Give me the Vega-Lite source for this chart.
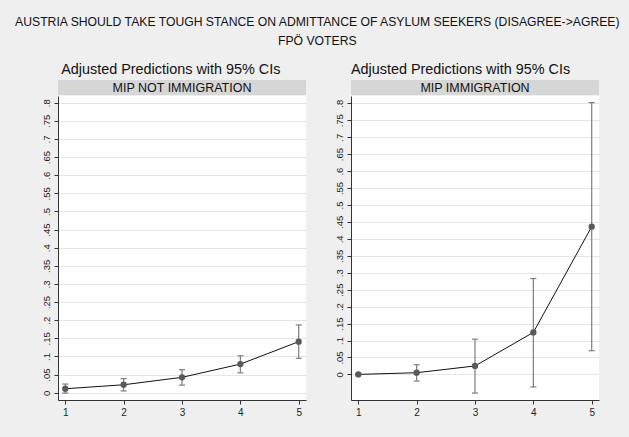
{
  "$schema": "https://vega.github.io/schema/vega-lite/v6.json",
  "background": "#efefef",
  "padding": {"left": 13, "top": 15, "right": 13, "bottom": 21},
  "datasets": {
    "left": [
      {"x": 1, "y": 0.011, "lo": -0.001, "hi": 0.024},
      {"x": 2, "y": 0.022, "lo": 0.005, "hi": 0.039},
      {"x": 3, "y": 0.0425, "lo": 0.021, "hi": 0.0635},
      {"x": 4, "y": 0.079, "lo": 0.055, "hi": 0.102},
      {"x": 5, "y": 0.141, "lo": 0.095, "hi": 0.187}
    ],
    "right": [
      {"x": 1, "y": 0.0, "lo": 0.0, "hi": 0.0},
      {"x": 2, "y": 0.005, "lo": -0.0195, "hi": 0.0285},
      {"x": 3, "y": 0.025, "lo": -0.055, "hi": 0.104},
      {"x": 4, "y": 0.124, "lo": -0.037, "hi": 0.283},
      {"x": 5, "y": 0.436, "lo": 0.07, "hi": 0.802}
    ],
    "stripL": [{"label": "MIP NOT IMMIGRATION"}],
    "stripR": [{"label": "MIP IMMIGRATION"}]
  },
  "title": {
    "text": ["AUSTRIA SHOULD TAKE TOUGH STANCE ON ADMITTANCE OF ASYLUM SEEKERS (DISAGREE->AGREE)", "FPÖ VOTERS"],
    "fontSize": 12.2,
    "lineHeight": 19.5,
    "anchor": "middle",
    "frame": "bounds",
    "dx": -2.7,
    "offset": 14
  },
  "spacing": 27,
  "hconcat": [
    {
      "title": {"text": "Adjusted Predictions with 95% CIs", "fontSize": 14.4, "anchor": "middle", "frame": "bounds", "dx": -2.7, "offset": 3},
      "spacing": 1,
      "bounds": "flush",
      "vconcat": [
        {
          "width": 248, "height": 15,
          "data": {"name": "stripL"},
          "view": {"fill": "#d6d6d6", "stroke": null},
          "mark": {"type": "text", "fontSize": 12.5, "baseline": "middle", "align": "center", "color": "#111"},
          "encoding": {"text": {"field": "label", "type": "nominal"}}
        },
        {
          "width": 248, "height": 304,
          "data": {"name": "left"},
          "view": {"fill": "white", "stroke": null},
          "encoding": {
            "x": {"field": "x", "type": "quantitative", "scale": {"domain": [0.875, 5.125], "nice": false, "zero": false},
                  "axis": {"values": [1, 2, 3, 4, 5], "format": "d", "title": null, "grid": false}}
          },
          "layer": [
            {
              "mark": {"type": "rule", "color": "#7d7d7d", "strokeWidth": 1.2},
              "encoding": {
                "y": {"field": "lo", "type": "quantitative", "scale": {"domain": [-0.02, 0.8185], "nice": false, "zero": false},
                      "axis": {"values": [0, 0.05, 0.1, 0.15, 0.2, 0.25, 0.3, 0.35, 0.4, 0.45, 0.5, 0.55, 0.6, 0.65, 0.7, 0.75, 0.8], "title": null,
                               "labelExpr": "datum.value == 0 ? '0' : substring(format(datum.value, '.2~f'), 1)"}},
                "y2": {"field": "hi"}
              }
            },
            {
              "mark": {"type": "tick", "orient": "horizontal", "size": 6, "thickness": 1.2, "color": "#7d7d7d", "opacity": 1},
              "encoding": {
                "y": {"field": "lo", "type": "quantitative", "scale": {"domain": [-0.02, 0.8185], "nice": false, "zero": false},
                      "axis": {"values": [0, 0.05, 0.1, 0.15, 0.2, 0.25, 0.3, 0.35, 0.4, 0.45, 0.5, 0.55, 0.6, 0.65, 0.7, 0.75, 0.8], "title": null,
                               "labelExpr": "datum.value == 0 ? '0' : substring(format(datum.value, '.2~f'), 1)"}}
              }
            },
            {
              "mark": {"type": "tick", "orient": "horizontal", "size": 6, "thickness": 1.2, "color": "#7d7d7d", "opacity": 1},
              "encoding": {
                "y": {"field": "hi", "type": "quantitative", "scale": {"domain": [-0.02, 0.8185], "nice": false, "zero": false},
                      "axis": {"values": [0, 0.05, 0.1, 0.15, 0.2, 0.25, 0.3, 0.35, 0.4, 0.45, 0.5, 0.55, 0.6, 0.65, 0.7, 0.75, 0.8], "title": null,
                               "labelExpr": "datum.value == 0 ? '0' : substring(format(datum.value, '.2~f'), 1)"}}
              }
            },
            {
              "mark": {"type": "line", "color": "#111", "strokeWidth": 1},
              "encoding": {
                "y": {"field": "y", "type": "quantitative", "scale": {"domain": [-0.02, 0.8185], "nice": false, "zero": false},
                      "axis": {"values": [0, 0.05, 0.1, 0.15, 0.2, 0.25, 0.3, 0.35, 0.4, 0.45, 0.5, 0.55, 0.6, 0.65, 0.7, 0.75, 0.8], "title": null,
                               "labelExpr": "datum.value == 0 ? '0' : substring(format(datum.value, '.2~f'), 1)"}}
              }
            },
            {
              "mark": {"type": "point", "filled": true, "color": "#5a5a5a", "size": 40, "opacity": 1},
              "encoding": {
                "y": {"field": "y", "type": "quantitative", "scale": {"domain": [-0.02, 0.8185], "nice": false, "zero": false},
                      "axis": {"values": [0, 0.05, 0.1, 0.15, 0.2, 0.25, 0.3, 0.35, 0.4, 0.45, 0.5, 0.55, 0.6, 0.65, 0.7, 0.75, 0.8], "title": null,
                               "labelExpr": "datum.value == 0 ? '0' : substring(format(datum.value, '.2~f'), 1)"}}
              }
            }
          ]
        }
      ]
    },
    {
      "title": {"text": "Adjusted Predictions with 95% CIs", "fontSize": 14.4, "anchor": "middle", "frame": "bounds", "dx": -6, "offset": 3},
      "spacing": 1,
      "bounds": "flush",
      "vconcat": [
        {
          "width": 248, "height": 15,
          "data": {"name": "stripR"},
          "view": {"fill": "#d6d6d6", "stroke": null},
          "mark": {"type": "text", "fontSize": 12.5, "baseline": "middle", "align": "center", "color": "#111"},
          "encoding": {"text": {"field": "label", "type": "nominal"}}
        },
        {
          "width": 248, "height": 304,
          "data": {"name": "right"},
          "view": {"fill": "white", "stroke": null},
          "encoding": {
            "x": {"field": "x", "type": "quantitative", "scale": {"domain": [0.875, 5.125], "nice": false, "zero": false},
                  "axis": {"values": [1, 2, 3, 4, 5], "format": "d", "title": null, "grid": false}}
          },
          "layer": [
            {
              "mark": {"type": "rule", "color": "#7d7d7d", "strokeWidth": 1.2},
              "encoding": {
                "y": {"field": "lo", "type": "quantitative", "scale": {"domain": [-0.0755, 0.8215], "nice": false, "zero": false},
                      "axis": {"values": [0, 0.05, 0.1, 0.15, 0.2, 0.25, 0.3, 0.35, 0.4, 0.45, 0.5, 0.55, 0.6, 0.65, 0.7, 0.75, 0.8], "title": null,
                               "labelExpr": "datum.value == 0 ? '0' : substring(format(datum.value, '.2~f'), 1)"}},
                "y2": {"field": "hi"}
              }
            },
            {
              "mark": {"type": "tick", "orient": "horizontal", "size": 6, "thickness": 1.2, "color": "#7d7d7d", "opacity": 1},
              "encoding": {
                "y": {"field": "lo", "type": "quantitative", "scale": {"domain": [-0.0755, 0.8215], "nice": false, "zero": false},
                      "axis": {"values": [0, 0.05, 0.1, 0.15, 0.2, 0.25, 0.3, 0.35, 0.4, 0.45, 0.5, 0.55, 0.6, 0.65, 0.7, 0.75, 0.8], "title": null,
                               "labelExpr": "datum.value == 0 ? '0' : substring(format(datum.value, '.2~f'), 1)"}}
              }
            },
            {
              "mark": {"type": "tick", "orient": "horizontal", "size": 6, "thickness": 1.2, "color": "#7d7d7d", "opacity": 1},
              "encoding": {
                "y": {"field": "hi", "type": "quantitative", "scale": {"domain": [-0.0755, 0.8215], "nice": false, "zero": false},
                      "axis": {"values": [0, 0.05, 0.1, 0.15, 0.2, 0.25, 0.3, 0.35, 0.4, 0.45, 0.5, 0.55, 0.6, 0.65, 0.7, 0.75, 0.8], "title": null,
                               "labelExpr": "datum.value == 0 ? '0' : substring(format(datum.value, '.2~f'), 1)"}}
              }
            },
            {
              "mark": {"type": "line", "color": "#111", "strokeWidth": 1},
              "encoding": {
                "y": {"field": "y", "type": "quantitative", "scale": {"domain": [-0.0755, 0.8215], "nice": false, "zero": false},
                      "axis": {"values": [0, 0.05, 0.1, 0.15, 0.2, 0.25, 0.3, 0.35, 0.4, 0.45, 0.5, 0.55, 0.6, 0.65, 0.7, 0.75, 0.8], "title": null,
                               "labelExpr": "datum.value == 0 ? '0' : substring(format(datum.value, '.2~f'), 1)"}}
              }
            },
            {
              "mark": {"type": "point", "filled": true, "color": "#5a5a5a", "size": 40, "opacity": 1},
              "encoding": {
                "y": {"field": "y", "type": "quantitative", "scale": {"domain": [-0.0755, 0.8215], "nice": false, "zero": false},
                      "axis": {"values": [0, 0.05, 0.1, 0.15, 0.2, 0.25, 0.3, 0.35, 0.4, 0.45, 0.5, 0.55, 0.6, 0.65, 0.7, 0.75, 0.8], "title": null,
                               "labelExpr": "datum.value == 0 ? '0' : substring(format(datum.value, '.2~f'), 1)"}}
              }
            }
          ]
        }
      ]
    }
  ],
  "config": {
    "font": "Liberation Sans",
    "title": {"font": "Liberation Sans", "fontWeight": "normal", "color": "#111"},
    "text": {"font": "Liberation Sans"},
    "axis": {
      "labelFont": "Liberation Sans",
      "labelColor": "#222",
      "domainColor": "#333",
      "tickColor": "#333",
      "tickSize": 4,
      "gridColor": "#e6e6e6",
      "gridWidth": 1,
      "labelOverlap": false
    },
    "axisY": {"labelAngle": 270, "labelAlign": "center", "labelBaseline": "bottom", "labelFontSize": 9.5, "labelPadding": 3, "grid": true},
    "axisX": {"labelFontSize": 10, "labelPadding": 3, "labelAngle": 0}
  }
}
